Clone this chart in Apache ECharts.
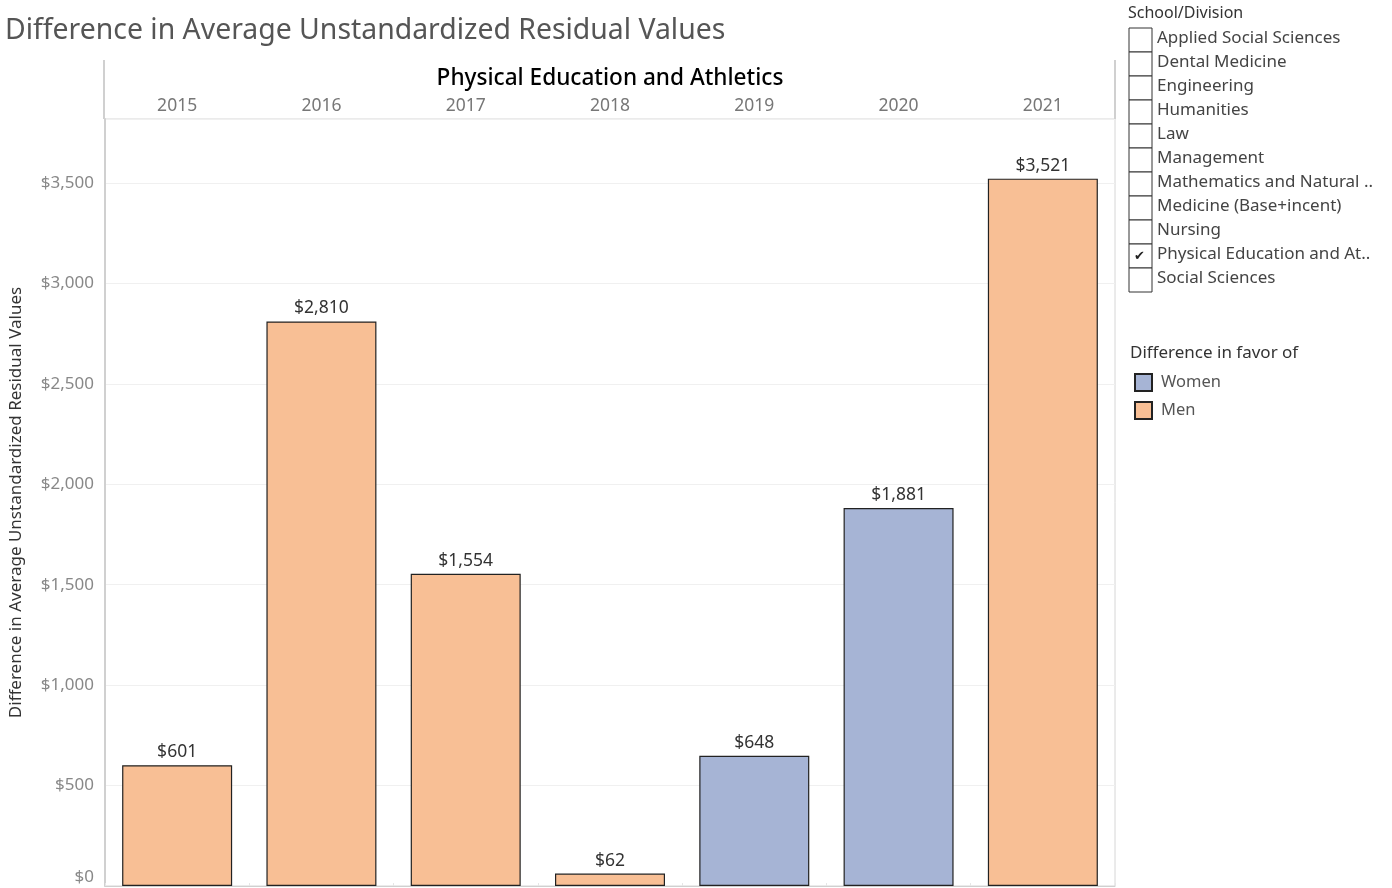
<!DOCTYPE html>
<html>
<head>
<meta charset="utf-8">
<script src="https://cdn.jsdelivr.net/npm/echarts@6/dist/echarts.min.js"></script>
<style>
  html, body { margin: 0; padding: 0; background: #fff; }
  #chart { width: 1392px; height: 888px; }
</style>
</head>
<body>
<div id="chart"></div>
<script>
const years = ['2015', '2016', '2017', '2018', '2019', '2020', '2021'];
const womenValues = [null, null, null, null, 648, 1881, null];
const menValues = [601, 2810, 1554, 62, null, null, 3521];
const yTicks = [0, 500, 1000, 1500, 2000, 2500, 3000, 3500];
const divisions = [
  'Applied Social Sciences', 'Dental Medicine', 'Engineering', 'Humanities', 'Law',
  'Management', 'Mathematics and Natural ..', 'Medicine (Base+incent)', 'Nursing',
  'Physical Education and At..', 'Social Sciences'
];
const selectedDivision = 'Physical Education and At..';

const FONT = 'Noto Sans';
const menColor = '#f8bf95';
const womenColor = '#a6b4d5';

const chart = echarts.init(document.getElementById('chart'));

const fmt = v => '$' + v.toLocaleString('en-US');

// filter box on the right, Tableau style
const filterGraphics = [{
  type: 'text', left: 1128, top: 5,
  style: { text: 'School/Division', font: `16px "${FONT}"`, fill: '#333' }
}];
divisions.forEach((d, i) => {
  const y = 28 + i * 24;
  filterGraphics.push({
    type: 'rect', shape: { x: 1129, y: y, width: 23, height: 24 },
    style: { fill: '#fff', stroke: '#333', lineWidth: 1 }
  });
  if (d === selectedDivision) {
    filterGraphics.push({
      type: 'text', x: 1134, y: y + 6,
      style: { text: '✔', font: `13px "DejaVu Sans"`, fill: '#222' }
    });
  }
  filterGraphics.push({
    type: 'text', x: 1157, y: y + 2,
    style: { text: d, font: `17px "${FONT}"`, fill: '#444' }
  });
});

const option = {
  animation: false,
  textStyle: { fontFamily: FONT },
  title: {
    text: 'Difference in Average Unstandardized Residual Values',
    left: 0, top: 12,
    textStyle: { fontSize: 28.4, fontWeight: 'normal', color: '#555', fontFamily: FONT }
  },
  legend: {
    orient: 'vertical',
    left: 1134, top: 373, padding: 0,
    itemWidth: 17, itemHeight: 17, itemGap: 9,
    icon: 'rect',
    data: ['Women', 'Men'],
    textStyle: { fontSize: 16.5, color: '#555', fontFamily: FONT, padding: [0, 0, 0, 4] }
  },
  grid: {
    left: 104, right: 277, top: 119, bottom: 2,
    show: true, borderColor: '#d6d6d6', borderWidth: 1, backgroundColor: 'transparent'
  },
  xAxis: {
    type: 'category',
    position: 'top',
    data: years,
    name: 'Physical Education and Athletics',
    nameLocation: 'middle',
    nameGap: 29,
    nameTextStyle: { fontSize: 22.6, fontWeight: 500, color: '#000', fontFamily: FONT },
    axisLine: { show: true, lineStyle: { color: '#d0d0d0', width: 1 } },
    axisTick: { show: true, length: 3, lineStyle: { color: '#e6e6e6' } },
    axisLabel: { fontSize: 17.5, color: '#777', margin: 4 }
  },
  yAxis: {
    type: 'value',
    min: 0, max: 3818, interval: 500,
    name: 'Difference in Average Unstandardized Residual Values',
    nameLocation: 'middle',
    nameGap: 80,
    nameTextStyle: { fontSize: 17, color: '#333', fontFamily: FONT },
    axisLine: { show: true, lineStyle: { color: '#d0d0d0', width: 2 } },
    axisTick: { show: false },
    axisLabel: {
      fontSize: 17, color: '#888', margin: 11,
      showMaxLabel: false,
      verticalAlignMinLabel: 'bottom',
      formatter: v => yTicks.includes(v) ? fmt(v) : ''
    },
    splitLine: { lineStyle: { color: '#f0f0f0', width: 1 } }
  },
  series: [
    {
      name: 'Women', type: 'bar', stack: 'diff', data: womenValues,
      barWidth: 110,
      itemStyle: { color: womenColor, borderColor: '#222', borderWidth: 1.2 },
      label: { show: true, position: 'top', distance: 4, fontSize: 17.5, color: '#333',
        formatter: p => fmt(p.value) }
    },
    {
      name: 'Men', type: 'bar', stack: 'diff', data: menValues,
      barWidth: 110,
      itemStyle: { color: menColor, borderColor: '#222', borderWidth: 1.2 },
      label: { show: true, position: 'top', distance: 4, fontSize: 17.5, color: '#333',
        formatter: p => fmt(p.value) }
    }
  ],
  graphic: [
    ...filterGraphics,
    {
      type: 'text', left: 1130, top: 345,
      style: { text: 'Difference in favor of', font: `17px "${FONT}"`, fill: '#333' }
    },
    { type: 'line', shape: { x1: 104, y1: 60, x2: 104, y2: 119 }, style: { stroke: '#d0d0d0', lineWidth: 2 } },
    { type: 'line', shape: { x1: 1115, y1: 60, x2: 1115, y2: 119 }, style: { stroke: '#d0d0d0', lineWidth: 2 } }
  ]
};

chart.setOption(option);
window.addEventListener('resize', () => chart.resize());
</script>
</body>
</html>
